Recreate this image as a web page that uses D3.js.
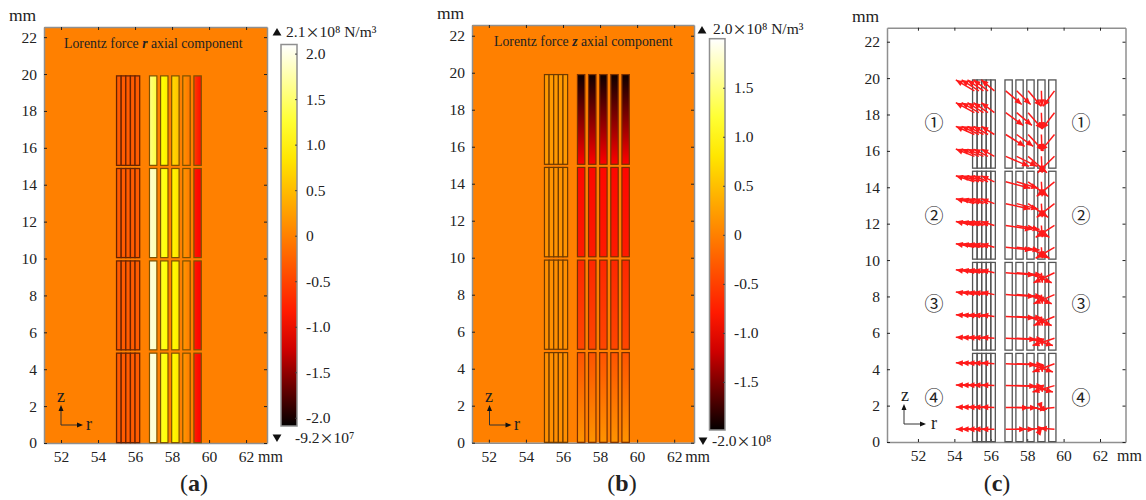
<!DOCTYPE html>
<html>
<head>
<meta charset="utf-8">
<script src="https://cdn.jsdelivr.net/npm/d3@7"></script>
<style>
    html, body { margin: 0; padding: 0; background: #fff; }
    svg { display: block; }
    text { font-family: "Liberation Serif", serif; fill: #222; }
</style>
</head>
<body>
<svg width="1146" height="500"></svg>
<script>
// ---- data ----
const xTicks = [52, 54, 56, 58, 60, 62];
const zTicks = [0, 2, 4, 6, 8, 10, 12, 14, 16, 18, 20, 22];
const barTicksA = [2.0, 1.5, 1.0, 0.5, 0, -0.5, -1.0, -1.5, -2.0];
const barTicksB = [1.5, 1.0, 0.5, 0, -0.5, -1.0, -1.5];

// coil geometry in mm
const blocks = [[0.02, 4.87], [5.05, 9.87], [10.05, 14.88], [15.05, 19.9]];
const lowEdges = [55, 55.25, 55.5, 55.75, 56, 56.25];
const highStarts = [56.78, 57.38, 57.98, 58.58, 59.18];
const highWidth = 0.4;

// panel a, r force, left and right edge of each high bar, bottom block first
const aLeft = [
    [1.95, 1.2, 1.05, 0.2, -0.8],
    [1.95, 1.2, 1.05, 0.2, -0.85],
    [1.9, 1.2, 1.0, 0.18, -0.85],
    [1.6, 1.1, 0.75, 0.15, -0.55]
];
const aRight = [
    [1.9, 1.05, 0.85, -0.05, -1.05],
    [1.85, 1.05, 0.9, -0.05, -1.05],
    [1.75, 1.05, 0.8, -0.05, -1.05],
    [1.3, 0.9, 0.55, -0.1, -0.95]
];
const aLow = [-0.3, -0.3, -0.3, -0.3];

// panel b, z force, top and bottom edge of the high bars per block
const bTop = [-0.35, -0.7, -0.95, -1.95];
const bBottom = [0.15, -0.45, -0.8, -1.0];
const bLow = [0.12, 0.12, 0.15, 0.2];

// panel c, arrow tails and lengths in mm
const arrowRows = [0.7, 1.9, 3.1, 4.3, 5.7, 6.9, 8.1, 9.3, 10.7, 11.9, 13.1, 14.3, 15.7, 16.9, 18.1, 19.3];
const lowTails = [55.1, 55.35, 55.6, 55.85, 56.2];
const lowDr = [-1.02, -0.95, -0.88, -0.8, -0.72];
const lowDz = [0, 0.02, 0.03, 0.05, 0.06, 0.1, 0.14, 0.17, 0.2, 0.22, 0.27, 0.33, 0.4, 0.45, 0.55, 0.6];
const highTails = [56.82, 57.42, 58.05, 58.78, 59.5];
const highDr = [1.6, 1.4, 1.3, 0.05, -1.15];
const highDrScale = [0.7, 0.8, 1.05, 1.05, 1.05, 1, 1, 1, 0.9, 0.9, 0.85, 0.85, 0.8, 0.65, 0.6, 0.55];
const outerDz = [0, -0.02, -0.03, -0.05, -0.06, -0.08, -0.1, -0.12, -0.15, -0.22, -0.3, -0.35, -0.55, -0.65, -0.7, -0.75];
const innerDz = [0.05, -0.1, -0.35, -0.45, -0.4, -0.5, -0.5, -0.55, -0.6, -0.65, -0.75, -0.8, -0.9, -0.9, -0.9, -0.85];

const circled = ['①', '②', '③', '④'];

const svg = d3.select('svg');

const defs = svg.append('defs');
let gradCount = 0;

function heatScale(lim) {
    return d3.scaleLinear()
        .domain([-lim, -lim / 2, 0, lim / 2, lim])
        .range(['#000000', '#ff0000', '#ff8000', '#ffff00', '#ffffff'])
        .clamp(true);
}

function addGradient(vertical, v1, v2, color) {
    const id = 'g' + (gradCount++);
    const g = defs.append('linearGradient').attr('id', id)
        .attr('x1', 0).attr('y1', 0)
        .attr('x2', vertical ? 0 : 1).attr('y2', vertical ? 1 : 0);
    d3.range(0, 1.01, 0.1).forEach(t => {
        g.append('stop').attr('offset', t).attr('stop-color', color(v1 + (v2 - v1) * t));
    });
    return `url(#${id})`;
}

function drawFrame(p) {
    const g = svg.append('g');
    const x = d3.scaleLinear().domain(p.xDomain).range([p.left, p.right]);
    const y = d3.scaleLinear().domain(p.yDomain).range([p.bottom, p.top]);

    g.append('rect')
        .attr('x', p.left).attr('y', p.top)
        .attr('width', p.right - p.left).attr('height', p.bottom - p.top)
        .attr('fill', p.fill);

    const axes = [
        [d3.axisBottom(x).tickValues(xTicks).tickSizeInner(-3).tickSizeOuter(0).tickPadding(8), 0, p.bottom, true],
        [d3.axisTop(x).tickValues(xTicks).tickSizeInner(-3).tickSizeOuter(0), 0, p.top, false],
        [d3.axisLeft(y).tickValues(zTicks).tickSizeInner(-3).tickSizeOuter(0).tickPadding(7), p.left, 0, true],
        [d3.axisRight(y).tickValues(zTicks).tickSizeInner(-3).tickSizeOuter(0), p.right, 0, false]
    ];
    axes.forEach(([axis, tx, ty, labels]) => {
        const a = g.append('g').attr('transform', `translate(${tx},${ty})`).call(axis);
        a.select('.domain').attr('stroke', '#8f8f8f').attr('stroke-width', 1.5);
        a.selectAll('.tick line').attr('stroke', '#222');
        a.selectAll('.tick text')
            .style('font-size', '15.5px')
            .style('font-family', '"Liberation Serif", serif')
            .attr('fill', '#222')
            .attr('display', labels ? null : 'none');
    });

    g.append('text').attr('x', p.left - 35).attr('y', p.top - 6)
        .style('font-size', '17.5px').text('mm');
    g.append('text').attr('x', x(62) + p.mmGap).attr('y', p.bottom + 19)
        .style('font-size', '16px').text('mm');
    return {g, x, y};
}

function coilRect(f, r0, r1, block) {
    return f.g.append('rect')
        .attr('x', f.x(r0)).attr('width', f.x(r1) - f.x(r0))
        .attr('y', f.y(block[1])).attr('height', f.y(block[0]) - f.y(block[1]));
}

function drawAxesGlyph(g, ox, oy, zx, rx) {
    const head = 'M0,0 L-6,-2.5 L-6,2.5 Z';
    g.append('path').attr('d', `M${ox},${oy - 18} V${oy} H${ox + 20}`)
        .attr('fill', 'none').attr('stroke', '#333').attr('stroke-width', 1);
    g.append('path').attr('d', head).attr('fill', '#111')
        .attr('transform', `translate(${ox},${oy - 20}) rotate(-90)`);
    g.append('path').attr('d', head).attr('fill', '#111')
        .attr('transform', `translate(${ox + 22},${oy})`);
    g.append('text').attr('x', zx).attr('y', oy - 23).attr('text-anchor', 'middle')
        .style('font-size', '18px').text('z');
    g.append('text').attr('x', rx).attr('y', oy + 5).attr('text-anchor', 'middle')
        .style('font-size', '18px').text('r');
}

function readout(x, y, label) {
    const [before, after] = label.split('×');
    const t = svg.append('text').attr('x', x).attr('y', y).style('font-size', '15.5px');
    t.append('tspan').text(before);
    t.append('tspan')
        .style('font-family', '"Noto Sans CJK SC", sans-serif')
        .style('font-size', '14px')
        .text('×');
    t.append('tspan').text(after);
}

function drawColorbar(b) {
    const color = heatScale(b.lim);
    const y = d3.scaleLinear().domain(b.domain).range([b.y0, b.y1]);
    svg.append('rect')
        .attr('x', b.x0).attr('y', b.y0)
        .attr('width', b.x1 - b.x0).attr('height', b.y1 - b.y0)
        .attr('fill', addGradient(true, b.domain[0], b.domain[1], color))
        .attr('stroke', '#8f8f8f').attr('stroke-width', 1.5);
    const a = svg.append('g').attr('transform', `translate(${b.x1},0)`)
        .call(d3.axisRight(y).tickValues(b.ticks).tickSizeInner(-2).tickSizeOuter(0).tickPadding(9)
            .tickFormat(d => d === 0 ? '0' : d.toFixed(1)));
    a.select('.domain').remove();
    a.selectAll('.tick line').attr('stroke', '#444');
    a.selectAll('.tick text')
        .style('font-size', '15.5px')
        .style('font-family', '"Liberation Serif", serif')
        .attr('fill', '#222');

    // max and min readouts
    svg.append('path').attr('d', d3.symbol(d3.symbolTriangle, 34)())
        .attr('transform', `translate(${b.upX},${b.upY})`).attr('fill', '#111');
    svg.append('path').attr('d', d3.symbol(d3.symbolTriangle, 34)())
        .attr('transform', `translate(${b.downX},${b.downY}) rotate(180)`).attr('fill', '#111');
    readout(b.maxX, b.maxY, b.maxText);
    readout(b.minX, b.minY, b.minText);
}

function drawTitle(x, y, letter, rest) {
    const t = svg.append('text').attr('x', x).attr('y', y).style('font-size', '13.8px');
    t.append('tspan').text('Lorentz force ');
    t.append('tspan').style('font-weight', 'bold').style('font-style', 'italic').text(letter);
    t.append('tspan').text(rest);
}

function drawCaption(x, letter) {
    const t = svg.append('text').attr('x', x).attr('y', 491).attr('text-anchor', 'middle')
        .style('font-size', '24px');
    t.append('tspan').text('(');
    t.append('tspan').style('font-weight', 'bold').text(letter);
    t.append('tspan').text(')');
}

// ---- panel a ----
const colorA = heatScale(2.1);
const fa = drawFrame({left: 44, right: 267, top: 27, bottom: 443, mmGap: 12,
    xDomain: [51.08, 63.13], yDomain: [0, 22.55], fill: colorA(0)});
blocks.forEach((block, i) => {
    d3.pairs(lowEdges).forEach(([r0, r1]) => {
        coilRect(fa, r0, r1, block).attr('fill', colorA(aLow[i]))
            .attr('stroke', '#6a2400').attr('stroke-width', 1.3);
    });
    highStarts.forEach((r0, j) => {
        coilRect(fa, r0, r0 + highWidth, block)
            .attr('fill', addGradient(false, aLeft[i][j], aRight[i][j], colorA))
            .attr('stroke', '#7d5200').attr('stroke-width', 1.2);
    });
});
drawTitle(64, 48, 'r', ' axial component');
drawAxesGlyph(fa.g, 61, 425, 61, 89);
drawColorbar({lim: 2.1, domain: [2.1, -2.09], ticks: barTicksA,
    x0: 281, x1: 297, y0: 44.5, y1: 426,
    upX: 277, upY: 33, downX: 277, downY: 437,
    maxX: 286, maxY: 37, maxText: '2.1×10⁸ N/m³',
    minX: 295, minY: 443, minText: '-9.2×10⁷'});
drawCaption(194, 'a');

// ---- panel b ----
const colorB = heatScale(2.0);
const fb = drawFrame({left: 472, right: 694, top: 25, bottom: 442.7, mmGap: 11,
    xDomain: [51.09, 63.07], yDomain: [0, 22.58], fill: colorB(0)});
blocks.forEach((block, i) => {
    d3.pairs(lowEdges).forEach(([r0, r1]) => {
        coilRect(fb, r0, r1, block).attr('fill', colorB(bLow[i]))
            .attr('stroke', '#6e3a00').attr('stroke-width', 1.2);
    });
    highStarts.forEach(r0 => {
        coilRect(fb, r0, r0 + highWidth, block)
            .attr('fill', addGradient(true, bTop[i], bBottom[i], colorB))
            .attr('stroke', '#7a3000').attr('stroke-width', 1.2);
    });
});
drawTitle(494, 46, 'z', ' axial component');
drawAxesGlyph(fb.g, 489.5, 425, 489, 517);
drawColorbar({lim: 2.0, domain: [2.0, -1.99], ticks: barTicksB,
    x0: 709.5, x1: 725, y0: 38.7, y1: 430,
    upX: 702, upY: 31, downX: 703, downY: 440,
    maxX: 713, maxY: 34, maxText: '2.0×10⁸ N/m³',
    minX: 712, minY: 446, minText: '-2.0×10⁸'});
drawCaption(622, 'b');

// ---- panel c ----
const fc = drawFrame({left: 887, right: 1125.5, top: 27.7, bottom: 442, mmGap: 17,
    xDomain: [50.3, 63.4], yDomain: [0, 22.77], fill: '#fff'});
blocks.forEach(block => {
    d3.pairs(lowEdges).forEach(([r0, r1]) => {
        coilRect(fc, r0, r1, block).attr('fill', 'none')
            .attr('stroke', '#555').attr('stroke-width', 1.3);
    });
    highStarts.forEach(r0 => {
        coilRect(fc, r0, r0 + highWidth, block).attr('fill', 'none')
            .attr('stroke', '#555').attr('stroke-width', 1.3);
    });
});

function drawArrow(r, z, dr, dz) {
    const x1 = fc.x(r), y1 = fc.y(z), x2 = fc.x(r + dr), y2 = fc.y(z + dz);
    const angle = Math.atan2(y2 - y1, x2 - x1) * 180 / Math.PI;
    fc.g.append('line')
        .attr('x1', x1).attr('y1', y1).attr('x2', x2).attr('y2', y2)
        .attr('stroke', '#ff1a1a').attr('stroke-width', 1.5);
    fc.g.append('path').attr('d', 'M0,0 L-7,-3 L-7,3 Z').attr('fill', '#ff1a1a')
        .attr('transform', `translate(${x2},${y2}) rotate(${angle})`);
}

arrowRows.forEach((z, i) => {
    lowTails.forEach((r, j) => drawArrow(r, z, lowDr[j], lowDz[i]));
    highTails.forEach((r, j) => drawArrow(r, z, highDr[j] * highDrScale[i], j < 2 ? outerDz[i] : innerDz[i]));
});

const circledY = [123, 216, 304, 398];
circled.forEach((c, i) => {
    [934, 1081].forEach(cx => {
        svg.append('text').attr('x', cx).attr('y', circledY[i] + 7)
            .attr('text-anchor', 'middle')
            .style('font-family', '"Noto Sans CJK SC", "DejaVu Sans", sans-serif')
            .style('font-size', '19px')
            .text(c);
    });
});
drawAxesGlyph(fc.g, 904, 424, 905, 934);
drawCaption(997, 'c');
</script>
</body>
</html>
